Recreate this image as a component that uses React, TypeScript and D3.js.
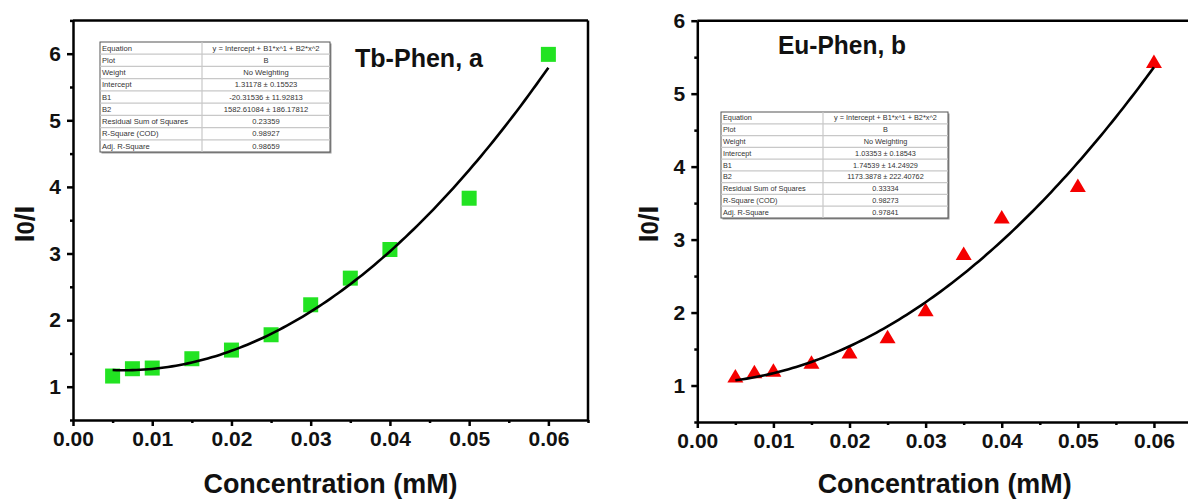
import React, { useEffect, useRef } from "react";
import * as d3 from "d3";

// ---------- data ----------
const concentrations = [0.005, 0.0075, 0.01, 0.015, 0.02, 0.025, 0.03, 0.035, 0.04, 0.05, 0.06];
const tbValues = [1.16, 1.27, 1.28, 1.42, 1.55, 1.78, 2.23, 2.63, 3.06, 3.83, 5.99];
const euValues = [1.13, 1.19, 1.21, 1.32, 1.46, 1.67, 2.04, 2.81, 3.31, 3.74, 5.44];

// fit coefficients shown in the tables: Intercept, B1, B2
const tbFit = [1.31178, -20.31536, 1582.61084];
const euFit = [1.03353, 1.74539, 1173.3878];

const tableLabels = ["Equation", "Plot", "Weight", "Intercept", "B1", "B2", "Residual Sum of Squares", "R-Square (COD)", "Adj. R-Square"];
const tbTableValues = ["y = Intercept + B1*x^1 + B2*x^2", "B", "No Weighting", "1.31178 ± 0.15523", "-20.31536 ± 11.92813", "1582.61084 ± 186.17812", "0.23359", "0.98927", "0.98659"];
const euTableValues = ["y = Intercept + B1*x^1 + B2*x^2", "B", "No Weighting", "1.03353 ± 0.18543", "1.74539 ± 14.24929", "1173.3878 ± 222.40762", "0.33334", "0.98273", "0.97841"];

const xMajorTicks = [0, 0.01, 0.02, 0.03, 0.04, 0.05, 0.06];
const yMajorTicks = [1, 2, 3, 4, 5, 6];

const FONT = "'Liberation Sans', Arial, sans-serif";

type Panel = {
  x0: number; x1: number; yTop: number; yBottom: number;
  yDomain: [number, number];
  values: number[]; fit: number[];
  kind: "square" | "triangle"; color: string;
  title: string; titleX: number; titleY: number;
  table: { x: number; y: number; w: number; h: number; div: number; values: string[]; fs: number };
  yTitleX: number;
};

const panels: Panel[] = [
  {
    x0: 73, x1: 588, yTop: 20.4, yBottom: 420, yDomain: [0.5, 6.5],
    values: tbValues, fit: tbFit, kind: "square", color: "#22e322",
    title: "Tb-Phen, a", titleX: 355, titleY: 67,
    table: { x: 100, y: 42, w: 230, h: 110, div: 202, values: tbTableValues, fs: 7.6 },
    yTitleX: 24,
  },
  {
    x0: 697.3, x1: 1192, yTop: 20.7, yBottom: 422, yDomain: [0.5, 6],
    values: euValues, fit: euFit, kind: "triangle", color: "#f50000",
    title: "Eu-Phen, b", titleX: 778, titleY: 54,
    table: { x: 721, y: 112, w: 227, h: 106, div: 823, values: euTableValues, fs: 7.3 },
    yTitleX: 648,
  },
];

export default function App() {
  const ref = useRef<SVGSVGElement>(null);

  useEffect(() => {
    const svg = d3.select(ref.current);
    svg.selectAll("*").remove();

    panels.forEach((p) => {
      const g = svg.append("g");
      const x = d3.scaleLinear().domain([0, 0.065]).range([p.x0, p.x1]);
      const y = d3.scaleLinear().domain(p.yDomain).range([p.yBottom, p.yTop]);

      // frame top and right
      g.append("line").attr("x1", p.x0).attr("x2", p.x1).attr("y1", p.yTop).attr("y2", p.yTop)
        .attr("stroke", "#000").attr("stroke-width", 2.5);
      g.append("line").attr("x1", p.x1).attr("x2", p.x1).attr("y1", p.yTop).attr("y2", p.yBottom)
        .attr("stroke", "#000").attr("stroke-width", 2.5);

      // x axis
      const xMinor = d3.range(0, 0.0651, 0.005).filter((v) => !xMajorTicks.some((m) => Math.abs(m - v) < 1e-9));
      const xAxisMinor = d3.axisBottom(x).tickValues(xMinor).tickSize(3).tickFormat(() => "");
      const gxm = g.append("g").attr("transform", `translate(0,${p.yBottom})`).call(xAxisMinor);
      gxm.select(".domain").remove();
      gxm.selectAll("line").attr("stroke-width", 2.5);
      const xAxis = d3.axisBottom(x).tickValues(xMajorTicks).tickSize(6).tickSizeOuter(0).tickPadding(5)
        .tickFormat((d) => d3.format(".2f")(d as number));
      const gx = g.append("g").attr("transform", `translate(0,${p.yBottom})`).call(xAxis);
      gx.select(".domain").attr("stroke-width", 2.5);
      gx.selectAll("line").attr("stroke-width", 2.5);
      gx.selectAll("text").attr("font-family", FONT).attr("font-weight", "bold").attr("font-size", 21).attr("fill", "#111");

      // y axis
      const yMinor = d3.range(p.yDomain[0], p.yDomain[1] + 0.001, 0.5).filter((v) => !yMajorTicks.includes(v));
      const yAxisMinor = d3.axisLeft(y).tickValues(yMinor).tickSize(3).tickFormat(() => "");
      const gym = g.append("g").attr("transform", `translate(${p.x0},0)`).call(yAxisMinor);
      gym.select(".domain").remove();
      gym.selectAll("line").attr("stroke-width", 2.5);
      const yAxis = d3.axisLeft(y).tickValues(yMajorTicks).tickSize(6).tickSizeOuter(0).tickPadding(6)
        .tickFormat((d) => d3.format("d")(d as number));
      const gy = g.append("g").attr("transform", `translate(${p.x0},0)`).call(yAxis);
      gy.select(".domain").attr("stroke-width", 2.5);
      gy.selectAll("line").attr("stroke-width", 2.5);
      gy.selectAll("text").attr("font-family", FONT).attr("font-weight", "bold").attr("font-size", 21).attr("fill", "#111");

      // axis titles
      const cx = (p.x0 + p.x1) / 2;
      g.append("text").attr("x", cx).attr("y", 493).attr("text-anchor", "middle")
        .attr("font-family", FONT).attr("font-weight", "bold").attr("font-size", 28).attr("fill", "#111")
        .attr("textLength", 254).attr("lengthAdjust", "spacingAndGlyphs")
        .text("Concentration (mM)");
      const yt = g.append("text").attr("transform", `translate(${p.yTitleX},224) rotate(-90)`)
        .attr("text-anchor", "middle").attr("dy", "0.35em")
        .attr("font-family", FONT).attr("font-weight", "bold").attr("font-size", 28).attr("fill", "#111");
      yt.append("tspan").text("I");
      yt.append("tspan").attr("font-size", 24).text("0");
      yt.append("tspan").text("/I");

      // panel title
      g.append("text").attr("x", p.titleX).attr("y", p.titleY)
        .attr("font-family", FONT).attr("font-weight", "bold").attr("font-size", 25).attr("fill", "#111")
        .attr("textLength", 128).attr("lengthAdjust", "spacingAndGlyphs")
        .text(p.title);

      // table
      const t = p.table;
      const rowH = t.h / tableLabels.length;
      const tg = g.append("g");
      tg.append("rect").attr("x", t.x + 1.5).attr("y", t.y + 1.5).attr("width", t.w).attr("height", t.h).attr("fill", "#999");
      tg.append("rect").attr("x", t.x).attr("y", t.y).attr("width", t.w).attr("height", t.h)
        .attr("fill", "#fff").attr("stroke", "#555").attr("stroke-width", 1);
      tableLabels.forEach((lab, i) => {
        const ry = t.y + i * rowH;
        if (i > 0) {
          tg.append("line").attr("x1", t.x).attr("x2", t.x + t.w).attr("y1", ry).attr("y2", ry)
            .attr("stroke", "#c8c8c8").attr("stroke-width", 1.2);
        }
        tg.append("text").attr("x", t.x + 2).attr("y", ry + rowH / 2).attr("dy", "0.35em")
          .attr("font-family", FONT).attr("font-size", t.fs).attr("fill", "#333").text(lab);
        tg.append("text").attr("x", (t.div + t.x + t.w) / 2).attr("y", ry + rowH / 2).attr("dy", "0.35em")
          .attr("text-anchor", "middle")
          .attr("font-family", FONT).attr("font-size", t.fs).attr("fill", "#333").text(t.values[i]);
      });
      tg.append("line").attr("x1", t.div).attr("x2", t.div).attr("y1", t.y).attr("y2", t.y + t.h)
        .attr("stroke", "#c8c8c8").attr("stroke-width", 1.2);

      // markers
      const mg = g.append("g");
      concentrations.forEach((c, i) => {
        const px = x(c), py = y(p.values[i]);
        if (p.kind === "square") {
          mg.append("rect").attr("x", px - 7.5).attr("y", py - 7.5).attr("width", 15).attr("height", 15).attr("fill", p.color);
        } else {
          mg.append("path").attr("d", `M${px},${py - 7}L${px + 8},${py + 6.5}L${px - 8},${py + 6.5}Z`).attr("fill", p.color);
        }
      });

      // fit curve from the table coefficients
      const xs = d3.range(concentrations[0], concentrations[concentrations.length - 1] + 1e-9, 0.0005);
      const line = d3.line<number>().x((v) => x(v)).y((v) => y(p.fit[0] + p.fit[1] * v + p.fit[2] * v * v));
      g.append("path").attr("d", line(xs)).attr("fill", "none").attr("stroke", "#000").attr("stroke-width", 2.6);
    });
  }, []);

  return (
    <svg ref={ref} width={1188} height={500}
      style={{ position: "absolute", left: 0, top: 0, background: "#fff" }} />
  );
}
